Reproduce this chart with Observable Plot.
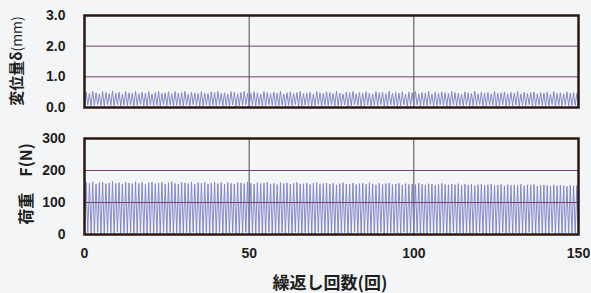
<!DOCTYPE html>
<html><head><meta charset="utf-8">
<script src="https://cdn.jsdelivr.net/npm/d3@7"></script>
<script src="https://cdn.jsdelivr.net/npm/@observablehq/plot@0.6"></script>
<style>
html,body{margin:0;padding:0;background:#f4f5f7;}
#wrap{position:relative;width:591px;height:293px;background:#f4f5f7;font-family:"Liberation Sans",Arial,sans-serif;color:#1e1e1e;}
#wrap svg{position:absolute;left:0;}
.lab{position:absolute;white-space:nowrap;font-weight:bold;font-family:"Noto Sans CJK JP","Liberation Sans",sans-serif;}
</style>
</head><body>
<div id="wrap"></div>
<script>
// cycle number ticks
const xTicks = [0, 50, 100, 150];
const dispTicks = [0, 1, 2, 3];
const loadTicks = [0, 100, 200, 300];
const dispGrid = [1, 2];
const loadGrid = [100, 200];
const xGrid = [50, 100];

// displacement δ (mm): peak per cycle (150 cycles)
const dispPeak = [
0.50,0.46,0.53,0.48,0.44,0.52,0.49,0.45,0.54,0.47,
0.50,0.44,0.52,0.48,0.46,0.53,0.45,0.50,0.47,0.52,
0.44,0.49,0.53,0.46,0.48,0.51,0.45,0.52,0.47,0.49,
0.53,0.44,0.50,0.48,0.46,0.52,0.47,0.45,0.51,0.49,
0.53,0.46,0.48,0.44,0.52,0.50,0.45,0.49,0.53,0.47,
0.46,0.51,0.48,0.44,0.52,0.49,0.45,0.50,0.47,0.53,
0.44,0.48,0.51,0.46,0.49,0.52,0.45,0.47,0.50,0.44,
0.52,0.48,0.46,0.51,0.49,0.45,0.53,0.47,0.44,0.50,
0.48,0.52,0.45,0.49,0.46,0.51,0.47,0.44,0.52,0.48,
0.50,0.45,0.53,0.46,0.49,0.47,0.51,0.44,0.50,0.48,
0.52,0.45,0.49,0.47,0.53,0.44,0.50,0.46,0.51,0.48,
0.45,0.52,0.49,0.47,0.44,0.51,0.48,0.46,0.53,0.45,
0.50,0.47,0.49,0.44,0.52,0.46,0.48,0.51,0.45,0.49,
0.47,0.52,0.44,0.50,0.46,0.48,0.51,0.45,0.49,0.47,
0.50,0.44,0.52,0.46,0.48,0.45,0.51,0.47,0.49,0.46];
// displacement δ (mm): trough per cycle
const dispTrough = [
0.06,0.08,0.05,0.07,0.09,0.06,0.05,0.08,0.07,0.06,
0.09,0.05,0.07,0.06,0.08,0.05,0.07,0.09,0.06,0.05,
0.08,0.06,0.07,0.05,0.09,0.06,0.08,0.05,0.07,0.06,
0.05,0.08,0.06,0.09,0.07,0.05,0.06,0.08,0.05,0.07,
0.06,0.09,0.05,0.07,0.06,0.08,0.05,0.06,0.07,0.09,
0.05,0.07,0.06,0.08,0.05,0.06,0.09,0.07,0.05,0.06,
0.08,0.05,0.07,0.06,0.09,0.05,0.06,0.08,0.07,0.05,
0.06,0.09,0.05,0.07,0.06,0.08,0.05,0.06,0.07,0.08,
0.05,0.06,0.09,0.07,0.05,0.06,0.08,0.05,0.07,0.06,
0.09,0.05,0.06,0.08,0.07,0.05,0.06,0.09,0.05,0.07,
0.06,0.08,0.05,0.07,0.06,0.09,0.05,0.06,0.08,0.07,
0.05,0.06,0.09,0.05,0.07,0.06,0.08,0.05,0.06,0.07,
0.09,0.05,0.06,0.08,0.07,0.05,0.06,0.09,0.05,0.07,
0.06,0.08,0.05,0.07,0.06,0.09,0.05,0.06,0.08,0.07,
0.05,0.06,0.09,0.05,0.07,0.06,0.08,0.05,0.06,0.07];
// load F (N): peak per cycle
const loadPeak = [
163,160,165,158,162,164,159,161,166,160,
162,158,164,161,159,165,160,163,157,162,
164,159,161,163,158,162,165,160,158,163,
161,159,164,157,162,160,163,158,161,164,
159,162,157,163,160,158,162,161,159,164,
160,157,162,159,161,163,158,160,156,162,
159,161,157,160,163,158,159,161,156,160,
162,157,159,161,158,160,155,159,162,157,
158,161,156,159,160,157,162,158,155,160,
157,159,161,156,158,160,155,159,157,158,
156,160,157,155,159,158,154,157,160,156,
155,158,156,159,154,157,155,158,153,156,
157,154,156,158,153,155,157,152,156,154,
155,153,157,152,155,154,156,152,154,155,
153,151,155,152,154,153,151,154,152,153];
// load F (N): trough per cycle
const loadTrough = [
4,6,3,5,7,4,3,6,5,4,
7,3,5,4,6,3,5,7,4,3,
6,4,5,3,7,4,6,3,5,4,
3,6,4,7,5,3,4,6,3,5,
4,7,3,5,4,6,3,4,5,7,
3,5,4,6,3,4,7,5,3,4,
6,3,5,4,7,3,4,6,5,3,
4,7,3,5,4,6,3,4,5,6,
3,4,7,5,3,4,6,3,5,4,
7,3,4,6,5,3,4,7,3,5,
4,6,3,5,4,7,3,4,6,5,
3,4,7,3,5,4,6,3,4,5,
7,3,4,6,5,3,4,7,3,5,
4,6,3,5,4,7,3,4,6,5,
3,4,7,3,5,4,6,3,4,5];

function series(tr, pk) {
  const out = [];
  for (let i = 0; i < pk.length; i++) {
    out.push({x: i, y: tr[i]});
    out.push({x: i + 0.5, y: pk[i]});
  }
  out.push({x: pk.length, y: tr[tr.length - 1]});
  return out;
}
const dispData = series(dispTrough, dispPeak);
const loadData = series(loadTrough, loadPeak);

const lineColor = "#7a7ec6";
const gridColor = "#74406e";
const frameColor = "#2b1712";
const baseStyle = {background: "transparent", fontSize: "14px", fontWeight: "bold", fontFamily: "'Liberation Sans', Arial, sans-serif", color: "#1e1e1e", overflow: "visible"};

const topChart = Plot.plot({
  width: 591, height: 120,
  marginLeft: 84, marginRight: 13, marginTop: 15, marginBottom: 13,
  style: baseStyle,
  x: {domain: [0, 150], axis: null},
  y: {domain: [0, 3], axis: null},
  marks: [
    Plot.ruleX(xGrid, {stroke: "#4a4a4a", strokeWidth: 1}),
    Plot.line(dispData, {x: "x", y: "y", stroke: lineColor, strokeWidth: 0.9}),
    Plot.ruleY(dispGrid, {stroke: gridColor, strokeWidth: 1}),
    Plot.axisY({ticks: dispTicks, tickFormat: d3.format(".1f"), tickSize: 0, tickPadding: 19, label: null, fontSize: 14, fontWeight: "bold"}),
    Plot.frame({stroke: frameColor, strokeWidth: 2.5})
  ]
});
topChart.style.top = "0px";

const bottomChart = Plot.plot({
  width: 591, height: 173,
  marginLeft: 84, marginRight: 13, marginTop: 18, marginBottom: 59,
  style: baseStyle,
  x: {domain: [0, 150]},
  y: {domain: [0, 300]},
  marks: [
    Plot.ruleX(xGrid, {stroke: "#4a4a4a", strokeWidth: 1}),
    Plot.line(loadData, {x: "x", y: "y", stroke: lineColor, strokeWidth: 0.9}),
    Plot.ruleY(loadGrid, {stroke: gridColor, strokeWidth: 1}),
    Plot.axisY({ticks: loadTicks, tickSize: 0, tickPadding: 19, label: null, fontSize: 14, fontWeight: "bold"}),
    Plot.axisX({ticks: xTicks, tickSize: 0, tickPadding: 14, label: null, fontSize: 14, fontWeight: "bold"}),
    Plot.frame({stroke: frameColor, strokeWidth: 2.5})
  ]
});
bottomChart.style.top = "120px";

const wrap = document.getElementById("wrap");
wrap.appendChild(topChart);
wrap.appendChild(bottomChart);

function addLabel(html, cx, cy, rotate, size) {
  const d = document.createElement("div");
  d.className = "lab";
  d.innerHTML = html;
  d.style.fontSize = size + "px";
  d.style.left = cx + "px";
  d.style.top = cy + "px";
  d.style.transform = "translate(-50%,-50%)" + (rotate ? " rotate(-90deg)" : "");
  wrap.appendChild(d);
}
addLabel('変位量δ<span style="font-weight:normal;font-size:14px">(mm)</span>', 15, 61, true, 15);
addLabel('荷重　F(N)', 25, 184, true, 16);
addLabel('繰返し回数(回)', 330, 281, false, 17);
</script>
</body></html>
